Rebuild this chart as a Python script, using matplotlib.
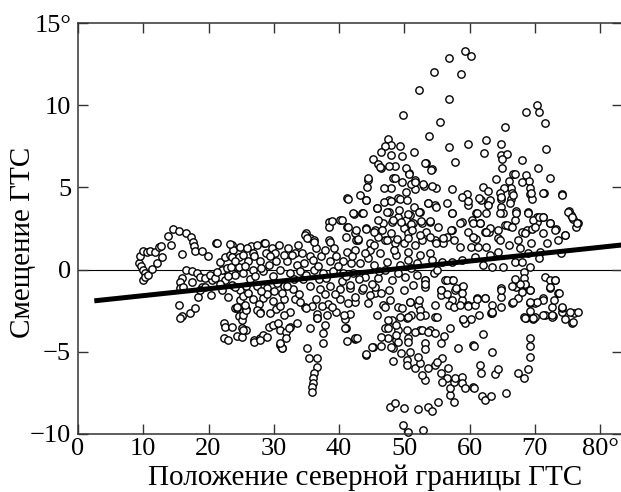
import numpy as np
import matplotlib
matplotlib.use('Agg')
import matplotlib.pyplot as plt

plt.rcParams['font.family'] = ['Liberation Serif', 'DejaVu Serif']

# Points, grouped by region (latitude of boundary, shift)
west_pts = [
    (9.35, 0.42), (9.5, 0.83), (9.6, 0.2), (10.0, 1.13), (10.0, -0.02), (10.27, -0.23),
    (10.0, -0.63), (10.2, -0.45), (10.5, 1.1), (10.8, -0.33), (11.0, 1.13), (11.3, 0.02),
    (11.8, 1.09), (12.06, 0.42), (12.4, 1.4), (12.7, 1.43), (12.9, 0.79), (13.85, 2.04),
    (14.25, 1.5), (14.6, 2.45), (15.5, 2.37), (16.55, 2.25), (17.3, 2.0), (17.6, 1.7),
    (17.8, 1.43), (17.9, 1.15), (18.95, 1.15), (16.0, 0.93), (19.97, 0.85), (16.55, -0.02),
    (17.4, -0.07), (18.2, -0.23), (15.9, -0.49), (15.6, -0.74), (15.6, -1.14), (16.1, -1.04),
    (17.4, -0.74), (18.7, -0.47), (18.95, -1.04), (18.45, -1.69), (15.5, -2.15), (16.0, -2.82),
    (15.6, -2.95), (17.2, -2.66), (17.9, -2.35), (19.5, -0.53), (19.5, -1.04), (18.7, -1.24),
    (20.5, -0.64), (20.2, -0.33), (21.0, -0.53), (20.4, -1.54), (21.15, 1.6),
]
band_pts = [
    (21.8, 0.48), (22.5, 0.0), (22.0, 0.0), (22.8, 0.07), (24.06, -0.33), (22.5, -0.64),
    (22.0, -1.24), (23.55, -0.94), (24.8, -1.24), (23.0, -1.65), (24.8, -1.85), (24.1, -2.36),
    (21.25, -0.13), (22.5, 0.78), (23.3, 0.89), (24.3, 0.18), (23.55, 1.5), (23.8, 1.19),
    (24.8, 1.4), (23.55, 0.79), (24.6, 0.79), (24.6, 0.14), (23.4, 0.14), (24.05, -1.04),
    (24.3, -2.35), (24.6, -2.8), (21.25, 1.6), (23.3, 1.54), (26.5, 1.45), (28.55, 1.6),
    (25.85, 1.3), (27.4, 1.5), (28.7, 1.6), (25.3, 0.9), (26.8, 1.0), (28.85, 1.0),
    (30.4, 0.5), (32.0, 0.5), (33.5, 0.3), (26.1, 0.5), (27.9, 0.5), (29.2, 0.3),
    (31.0, 0.0), (32.5, -0.2), (34.0, -0.1), (36.1, 0.0), (37.6, -0.2), (39.1, -0.1),
    (40.6, -0.2), (42.2, -0.2), (25.3, -0.2), (26.8, 0.0), (28.4, -0.1), (29.9, -0.4),
    (25.8, -1.0), (27.4, -1.0), (28.9, -1.1), (31.5, -1.0), (33.0, -1.2), (35.55, -1.0),
    (37.1, -1.2), (38.6, -1.0), (40.1, -1.2), (41.7, -1.1), (25.3, -1.6), (26.8, -1.8),
    (28.4, -1.7), (29.9, -1.9), (31.5, -1.8), (33.2, -1.8), (34.8, -2.3), (36.4, -1.8),
    (38.3, -2.1), (40.1, -1.8), (42.4, -2.0), (25.8, -2.4), (27.9, -2.6), (30.4, -2.4),
    (32.5, -2.6), (36.7, -2.7), (39.6, -2.6), (41.7, -2.7), (33.3, 0.99), (34.3, 1.0),
    (35.55, 0.8), (37.3, 0.8), (38.6, 0.5), (39.6, 0.8), (40.6, 0.5), (41.9, 0.4),
    (41.2, 1.09), (42.5, 1.2), (37.9, 1.2), (36.4, 1.3), (34.9, 2.2), (35.5, 1.9),
    (36.2, 1.8), (38.5, 1.8), (41.1, 2.0), (42.6, 1.8), (34.8, 2.1), (35.1, 1.9),
    (36.1, 1.7), (38.5, 2.9), (38.5, 2.6), (40.15, 3.0), (38.6, 1.7), (41.2, 4.33),
    (42.3, 3.38), (41.3, 2.6), (42.4, 2.2), (27.0, 0.8), (29.8, 1.3), (30.5, -0.8),
    (32.8, 0.9), (34.5, -0.6), (36.0, 0.6), (37.0, -0.6), (39.8, 0.2), (26.3, -0.6),
    (29.0, -1.5), (31.2, -1.4), (33.9, -1.5), (35.0, -0.3), (37.8, -1.5), (40.5, -0.7),
    (27.7, -2.1), (31.0, -2.2), (32.2, 1.3), (30.2, 1.0), (35.8, -2.2), (39.0, -2.3),
    (24.0, 0.5), (25.6, 0.2), (27.2, -0.4), (28.1, 0.1), (29.5, 0.8), (31.6, 0.9),
    (33.1, -0.6), (34.7, 0.4), (36.8, 0.2), (38.0, -0.5), (39.4, -1.5), (41.0, -0.4),
    (30.1, -1.3), (32.0, -1.0), (34.0, -2.0), (37.4, -2.2), (42.0, 0.8), (26.0, -1.4),
    (28.0, -1.3), (23.0, -0.4), (21.8, -0.9), (33.7, 1.5), (30.8, 1.5), (39.2, 1.3),
]
hook_pts = [
    (22.3, -3.27), (22.5, -3.47), (22.3, -4.18), (23.0, -4.28), (23.55, -3.47), (24.3, -4.04),
    (25.1, -4.08), (25.8, -3.67), (26.9, -4.28), (27.9, -4.18), (28.4, -3.98), (29.2, -3.47),
    (25.1, -3.57), (25.1, -3.07), (25.3, -2.76), (25.8, -2.46), (25.6, -2.15), (24.3, -2.26),
    (27.4, -2.46), (27.9, -2.66), (29.4, -2.66), (30.96, -4.59), (31.2, -4.79), (30.96, -3.67),
    (31.9, -3.78), (32.5, -3.47), (33.5, -3.27), (35.0, -2.35), (36.6, -2.96), (35.6, -3.57),
    (35.05, -4.79), (35.45, -5.4), (36.6, -5.4), (36.6, -5.9), (36.1, -6.3), (35.97, -6.6),
    (35.97, -6.88), (35.9, -7.16), (35.8, -7.46), (31.2, -4.79), (30.96, -4.48), (31.9, -4.18),
    (32.3, -3.57), (37.6, -4.48), (37.6, -3.87), (37.9, -3.37), (38.2, -2.76), (40.9, -3.02),
    (41.07, -3.57), (41.2, -4.32), (42.45, -4.24), (36.7, -2.96), (26.9, -4.38), (27.9, -4.28),
    (25.3, -3.67), (28.9, -4.08), (29.9, -3.37), (30.7, -3.27), (31.5, -2.76), (40.7, -2.76),
    (40.9, -3.57), (41.4, -2.05), (42.45, -4.18),
]
core_pts = [
    (44.2, 4.23), (47.6, 4.23), (49.1, 4.33), (53.7, 4.03), (54.7, 3.93), (57.3, 3.42),
    (59.3, 4.43), (59.8, 3.93), (43.5, 3.42), (45.8, 3.72), (47.6, 3.52), (49.1, 3.22),
    (50.9, 3.32), (52.4, 3.52), (51.4, 2.81), (52.7, 2.81), (53.95, 2.91), (48.1, 2.91),
    (46.8, 2.81), (58.8, 2.91), (44.2, 2.51), (45.5, 2.41), (49.9, 2.51), (50.6, 2.2),
    (53.4, 2.3), (56.5, 2.0), (57.3, 2.41), (56.0, 1.6), (54.7, 1.8), (52.7, 1.8),
    (42.96, 1.8), (44.75, 1.6), (47.05, 1.8), (48.6, 1.6), (51.65, 1.5), (53.95, 0.99),
    (52.4, 0.89), (50.6, 1.09), (48.8, 0.89), (46.3, 0.99), (44.5, 0.68), (43.2, 0.38),
    (45.3, 0.28), (47.3, 0.48), (49.35, 0.28), (50.6, 0.58), (51.9, 0.38), (54.2, 0.58),
    (55.75, 0.48), (57.3, 0.48), (58.8, 0.58), (43.98, -0.43), (46.0, -0.53), (48.07, -0.64),
    (50.1, -0.43), (51.4, -0.94), (53.2, -0.64), (56.25, -0.64), (57.3, -0.64), (57.8, -1.24),
    (55.7, -1.24), (58.8, -1.04), (53.2, -1.04), (49.9, -1.24), (47.6, -1.24), (45.5, -1.45),
    (43.5, -1.24), (44.5, -2.06), (46.8, -2.16), (49.1, -2.26), (50.9, -1.95), (52.15, -2.16),
    (54.7, -2.16), (55.7, -1.55), (57.3, -1.85), (59.8, -2.16), (58.8, -1.85), (51.1, -2.77),
    (53.2, -2.77), (54.5, -0.23), (53.2, -0.63), (53.2, -0.9), (52.2, -1.85), (52.4, -2.46),
    (52.4, -2.8), (52.4, -3.67), (53.9, -3.67), (50.9, -1.95), (50.4, -2.96), (48.1, -3.07),
    (47.05, -3.57), (45.25, -4.69), (44.1, -5.2), (42.45, -1.65), (41.7, -0.94), (43.7, -1.14),
    (44.75, -1.55), (45.5, -1.04), (46.5, -1.44), (47.05, -2.26), (47.8, -1.85), (49.6, -2.35),
    (49.35, -2.86), (49.1, -3.67), (50.4, -3.67), (50.6, -4.18), (48.8, -4.28), (48.3, -4.79),
    (55.7, -1.24), (56.5, -0.63), (57.5, -0.63), (58.0, -1.14), (59.0, -1.0), (58.8, -1.4),
    (56.5, -1.48), (56.8, -2.15), (57.6, -2.26), (58.5, -2.15), (59.8, -2.21), (60.3, -3.02),
    (59.0, -3.07), (44.8, 1.2), (46.0, 2.0), (48.0, 2.2), (50.0, 1.6), (45.0, -0.9),
    (47.0, 0.0), (49.0, -0.2), (51.0, 0.1), (52.0, -0.3), (55.0, 0.0), (43.0, -0.6),
    (46.2, -0.1), (48.5, 1.2), (50.2, 3.0), (44.0, 1.0), (55.2, 2.6), (45.9, 3.0),
]
upper_pts = [
    (59.3, 13.3), (60.2, 13.0), (56.9, 12.85), (54.6, 12.0), (58.7, 11.9), (52.3, 10.9),
    (56.9, 10.36), (49.75, 9.4), (55.5, 8.96), (53.8, 8.13), (47.55, 7.93), (47.9, 7.6),
    (49.35, 7.5), (47.0, 7.5), (46.5, 7.17), (47.9, 7.0), (51.5, 7.17), (56.9, 7.48),
    (59.8, 7.64), (62.5, 7.88), (62.2, 7.11), (64.9, 7.64), (64.85, 7.0), (65.8, 7.03),
    (65.0, 6.7), (65.0, 6.16), (65.4, 8.65), (68.6, 9.6), (70.3, 10.0), (70.7, 9.6),
    (71.5, 8.9), (71.7, 7.34), (70.45, 6.16), (72.4, 5.59), (71.4, 4.64), (74.1, 4.58),
    (68.1, 6.67), (66.7, 5.8), (68.66, 5.75), (69.1, 5.4), (68.0, 5.3), (69.3, 4.98),
    (69.2, 4.6), (69.6, 4.28), (68.9, 3.49), (70.3, 3.22), (71.3, 3.2), (70.3, 2.9),
    (72.4, 2.85), (73.3, 2.45), (74.6, 2.09), (75.2, 3.56), (75.5, 3.3), (75.8, 3.1),
    (76.6, 2.85), (76.3, 2.6), (64.1, 5.49), (66.0, 5.4), (66.9, 5.8), (66.3, 4.95),
    (65.3, 4.98), (64.7, 4.64), (66.5, 4.64), (66.3, 4.28), (64.9, 4.28), (64.85, 3.83),
    (65.2, 3.42), (65.4, 2.71), (66.1, 2.65), (67.1, 3.56), (67.0, 3.0), (68.0, 2.3),
    (68.8, 2.4), (69.6, 2.5), (69.8, 3.0), (62.0, 5.0), (62.8, 4.8), (61.7, 4.23),
    (62.8, 4.07), (62.55, 3.42), (61.0, 3.42), (60.35, 3.02), (61.6, 2.85), (62.3, 2.3),
    (63.0, 2.3), (64.3, 1.9), (59.8, 2.3), (60.7, 1.9), (58.5, 2.85), (59.65, 4.6),
    (58.8, 4.4), (59.8, 4.2), (57.25, 4.88), (56.6, 4.07), (57.25, 3.42), (54.8, 3.83),
    (54.8, 4.95), (53.6, 4.07), (53.0, 5.08), (54.0, 2.95), (51.65, 4.88), (53.3, 6.46),
    (54.2, 6.1), (57.8, 6.56), (51.65, 5.45), (50.8, 5.86), (51.0, 5.2), (49.6, 5.35),
    (50.3, 4.75), (49.3, 4.28), (50.4, 4.23), (48.0, 4.95), (46.9, 4.95), (48.3, 5.6),
    (48.6, 6.3), (46.4, 6.16), (45.26, 6.7), (46.0, 6.4), (44.5, 5.45), (44.3, 5.0),
    (43.2, 4.54), (44.1, 4.23), (41.4, 4.3), (43.7, 3.42), (42.1, 3.42), (45.8, 3.73),
    (46.9, 4.1), (47.9, 4.2), (47.4, 3.5), (48.2, 3.0), (49.2, 3.6), (50.5, 3.4),
    (51.45, 3.83), (52.2, 3.5), (49.5, 2.9), (51.0, 2.8), (52.5, 2.95), (51.2, 2.4),
    (46.6, 2.4), (45.4, 2.3), (44.1, 2.5), (42.6, 2.4), (41.4, 2.6), (40.4, 3.02),
    (38.9, 2.95), (42.9, 1.85), (45.4, 1.5), (47.4, 1.8), (48.9, 1.85), (50.5, 1.9),
    (52.4, 2.1), (53.9, 2.0), (55.9, 1.9), (57.1, 2.4), (57.6, 1.8), (58.6, 1.4),
    (60.3, 1.4), (54.9, 1.6), (64.4, 2.4), (62.6, 1.4), (61.0, 1.85), (53.2, 6.46),
    (54.1, 6.06), (46.3, 6.26), (47.6, 6.3), (44.5, 5.55), (49.6, 6.9), (50.2, 6.2),
    (50.8, 5.8), (48.6, 5.55), (51.7, 5.33), (52.8, 5.2), (54.3, 5.1),
]
south_pts = [
    (49.85, -9.45), (52.9, -9.76), (50.6, -9.9), (47.8, -8.34), (48.6, -8.13), (50.0, -8.44),
    (52.15, -8.5), (53.7, -8.34), (54.3, -8.58), (55.1, -8.03), (57.0, -7.63), (57.7, -8.03),
    (57.0, -7.22), (57.7, -6.82), (56.5, -6.61), (55.8, -6.82), (55.6, -6.31), (56.75, -6.0),
    (57.8, -6.61), (58.8, -6.51), (58.9, -6.88), (59.3, -7.22), (60.6, -7.12), (54.7, -5.8),
    (55.8, -5.4), (55.0, -5.6), (53.2, -6.71), (52.7, -6.41), (51.6, -6.0), (52.4, -5.7),
    (53.7, -6.0), (52.15, -5.3), (50.4, -5.5), (50.4, -5.8), (48.2, -5.54), (49.5, -5.09),
    (50.6, -4.38), (50.9, -5.0), (49.1, -4.38), (47.97, -4.69), (46.5, -4.65), (45.1, -4.73),
    (44.1, -5.15), (47.55, -4.18), (46.5, -4.08), (48.8, -3.98), (47.55, -3.57), (48.8, -3.4),
    (47.5, -3.07), (45.8, -2.76), (42.7, -4.18), (51.6, -3.78), (52.7, -3.67), (53.7, -3.78),
    (54.7, -3.88), (55.7, -4.48), (56.1, -4.04), (57.0, -3.57), (53.2, -4.48), (53.2, -4.8),
    (54.7, -2.86), (55.0, -2.86), (58.3, -4.79), (60.6, -4.59), (59.3, -3.27), (59.0, -3.0),
    (50.5, -2.86), (62.0, -3.94), (60.7, -4.65), (63.4, -5.03), (61.6, -5.8), (61.7, -6.31),
    (63.9, -6.35), (64.4, -6.05), (60.7, -7.22), (61.85, -7.69), (62.4, -7.93), (63.25, -7.69),
    (65.6, -7.49), (67.4, -6.31), (68.4, -6.57), (69.0, -6.06), (69.2, -5.3), (69.2, -4.65),
    (69.2, -4.18), (63.3, -2.66), (68.66, -2.96), (69.8, -3.02), (71.6, -2.76), (72.75, -2.82),
    (74.6, -3.02), (75.7, -3.23), (76.0, -2.62), (74.2, -2.6),
]
east_pts = [
    (61.4, 4.33), (63.1, 4.23), (64.9, 4.43), (66.7, 4.54), (69.5, 4.64), (71.3, 4.64),
    (74.1, 4.54), (61.1, 3.42), (62.9, 3.93), (64.7, 3.42), (66.2, 4.03), (67.2, 3.42),
    (69.0, 3.42), (70.6, 3.22), (71.3, 3.22), (75.15, 3.52), (75.7, 3.22), (76.4, 2.81),
    (60.6, 2.81), (61.6, 2.81), (63.1, 2.51), (65.7, 2.71), (66.5, 2.61), (68.5, 2.2),
    (70.0, 2.61), (72.35, 2.81), (73.1, 2.41), (74.6, 2.1), (71.3, 2.2), (60.6, 2.0),
    (62.6, 2.3), (64.7, 1.8), (67.5, 1.8), (69.5, 1.6), (61.35, 1.4), (64.4, 1.09),
    (67.75, 1.29), (69.0, 0.99), (70.8, 1.09), (74.0, 0.99), (60.85, 0.78), (63.15, 0.88),
    (65.2, 0.18), (63.4, 0.18), (67.0, 0.48), (68.0, 0.48), (69.3, 0.18), (70.6, 0.68),
    (68.3, -0.13), (68.3, -0.53), (67.2, -1.04), (68.5, -0.94), (69.3, -1.24), (71.6, -0.43),
    (72.35, -0.64), (73.1, -0.64), (72.35, -1.14), (73.6, -1.45), (64.9, -1.14), (64.9, -1.65),
    (61.1, -1.75), (62.4, -1.75), (63.4, -2.16), (66.5, -2.06), (67.5, -1.75), (69.3, -2.06),
    (70.05, -2.06), (71.3, -1.75), (72.6, -2.26), (74.1, -2.36), (75.4, -2.56), (68.3, -2.87),
    (70.05, -2.87), (72.6, -2.87), (61.4, -2.77), (63.4, -2.66), (60.85, -2.16), (76.7, -2.56),
    (75.8, -3.17), (74.1, -2.26), (73.7, -1.44), (73.1, -0.63), (72.3, -1.04), (72.9, -1.85),
    (71.3, -2.76), (72.7, -2.76), (71.3, -1.85), (70.3, -1.95), (69.3, -1.95), (69.8, -2.96),
    (68.5, -2.96), (69.3, -2.5), (69.2, -1.24), (68.0, -1.34), (68.5, -0.88), (67.8, -0.9),
    (67.0, -0.59), (66.5, -1.0), (66.6, -1.95), (64.9, -1.24), (64.9, -2.26), (63.4, -2.56),
    (62.4, -1.75), (61.1, -1.81), (62.0, 0.3), (66.0, 1.5), (71.8, 1.6), (73.5, 1.8),
]

# trend line end points
trend_x = [2.5, 83.4]
trend_y = [-1.9, 1.5]

xticks = [0, 10, 20, 30, 40, 50, 60, 70, 80]
xtick_labels = ['0', '10', '20', '30', '40', '50', '60', '70', '80°']
yticks = [-10, -5, 0, 5, 10, 15]
ytick_labels = ['\u221210', '\u22125', '0', '5', '10', '15°']

groups = [west_pts, band_pts, hook_pts, core_pts, upper_pts, south_pts, east_pts]
pts = np.array([p for g in groups for p in g])

fig = plt.figure(figsize=(6.21, 4.92), dpi=100)
ax = fig.add_axes([78 / 621, 58 / 492, 544 / 621, 411 / 492])

ax.axhline(0, color='black', lw=0.8, zorder=1)
ax.scatter(pts[:, 0], pts[:, 1], s=28, facecolors='white', edgecolors='black',
           linewidths=1.0, zorder=2, clip_on=False)
ax.plot(trend_x, trend_y, color='black', lw=3.6, solid_capstyle='butt', zorder=3)

ax.set_xlim(0, 83.37)
ax.set_ylim(-10, 15)
ax.set_xticks(xticks)
ax.set_xticklabels(xtick_labels)
ax.set_yticks(yticks)
ax.set_yticklabels(ytick_labels)
ax.tick_params(direction='in', length=7, width=1, top=True, right=True,
               labelsize=19, color='#333333')
ax.tick_params(axis='y', pad=5)
ax.tick_params(axis='x', pad=3)
for s in ax.spines.values():
    s.set_color('#333333')
    s.set_linewidth(1.1)

ax.set_xlabel('Положение северной границы ГТС', fontsize=21)
ax.xaxis.set_label_coords(0.527, -0.075)
ax.set_ylabel('Смещение ГТС', fontsize=21)
ax.yaxis.set_label_coords(-0.078, 0.466)

fig.savefig('out.png', dpi=100)
